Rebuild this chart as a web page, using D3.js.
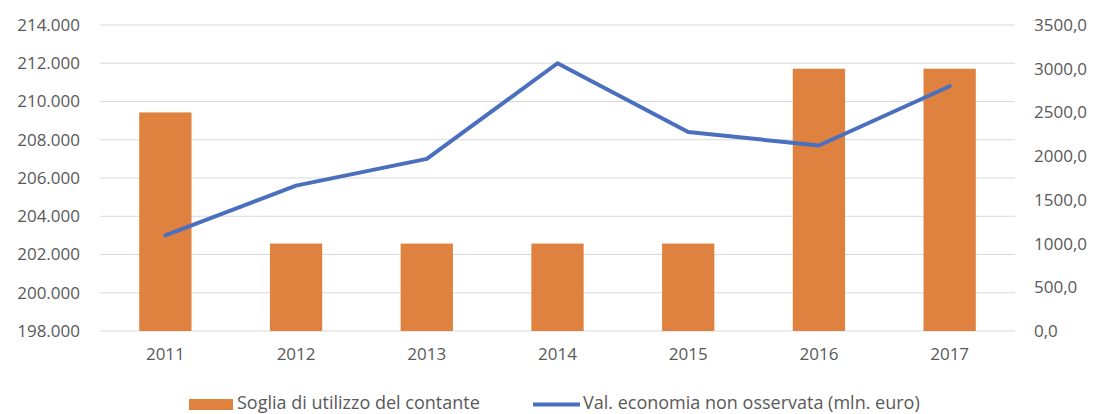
<!DOCTYPE html>
<html>
<head>
<meta charset="utf-8">
<script src="https://cdn.jsdelivr.net/npm/d3@7"></script>
<style>
  body { margin: 0; background: #fff; }
  text { font-family: "Open Sans", sans-serif; fill: #595959; }
</style>
</head>
<body>
<div id="chart"></div>
<script>
// data
const years = ["2011", "2012", "2013", "2014", "2015", "2016", "2017"];
const soglia = [2500, 1000, 1000, 1000, 1000, 3000, 3000];
const economia = [203000, 205600, 207000, 212000, 208400, 207700, 210800];
const leftTicks = [198000, 200000, 202000, 204000, 206000, 208000, 210000, 212000, 214000];
const rightTicks = [0, 500, 1000, 1500, 2000, 2500, 3000, 3500];
const seriesNames = ["Soglia di utilizzo del contante", "Val. economia non osservata (mln. euro)"];

const W = 1094, H = 414;
const margin = { top: 25, right: 79, bottom: 83, left: 100 };
const width = W - margin.left - margin.right;
const height = H - margin.top - margin.bottom;

const it = d3.formatLocale({ decimal: ",", thousands: ".", grouping: [3], currency: ["€", ""] });
const fmtLeft = it.format(",.0f");
const fmtRight = it.format(".1f");

const svg = d3.select("#chart").append("svg")
    .attr("width", W)
    .attr("height", H);

const g = svg.append("g")
    .attr("transform", `translate(${margin.left},${margin.top})`);

const x = d3.scaleBand()
    .domain(years)
    .range([0, width])
    .padding(0);

const yLeft = d3.scaleLinear()
    .domain([198000, 214000])
    .range([height, 0]);

const yRight = d3.scaleLinear()
    .domain([0, 3500])
    .range([height, 0]);

// gridlines
g.append("g")
    .selectAll("line")
    .data(leftTicks)
    .enter()
    .append("line")
    .attr("x1", 0)
    .attr("x2", width)
    .attr("y1", d => yLeft(d))
    .attr("y2", d => yLeft(d))
    .attr("stroke", "#d9d9d9")
    .attr("stroke-width", 1.2);

// left axis
const axL = g.append("g")
    .call(d3.axisLeft(yLeft).tickValues(leftTicks).tickFormat(fmtLeft).tickSize(0).tickPadding(20));
axL.select(".domain").remove();
axL.selectAll("text").attr("font-size", 17).style("font-family", "Open Sans").attr("fill", "#595959");

// right axis
const axR = g.append("g")
    .attr("transform", `translate(${width},0)`)
    .call(d3.axisRight(yRight).tickValues(rightTicks).tickFormat(fmtRight).tickSize(0).tickPadding(19));
axR.select(".domain").remove();
axR.selectAll("text").attr("font-size", 17).style("font-family", "Open Sans").attr("fill", "#595959");

// bottom axis
const axB = g.append("g")
    .attr("transform", `translate(0,${height})`)
    .call(d3.axisBottom(x).tickSize(0).tickPadding(17));
axB.select(".domain").remove();
axB.selectAll("text").attr("font-size", 17).style("font-family", "Open Sans").attr("fill", "#595959");

// bars
const barW = x.bandwidth() * 0.4;
g.selectAll(".bar")
    .data(years)
    .enter()
    .append("rect")
    .attr("class", "bar")
    .attr("x", (d) => x(d) + (x.bandwidth() - barW) / 2)
    .attr("y", (d, i) => yRight(soglia[i]))
    .attr("width", barW)
    .attr("height", (d, i) => height - yRight(soglia[i]))
    .attr("fill", "#E0823F");

// line
const line = d3.line()
    .x((d, i) => x(years[i]) + x.bandwidth() / 2)
    .y(d => yLeft(d));

g.append("path")
    .datum(economia)
    .attr("d", line)
    .attr("fill", "none")
    .attr("stroke", "#4A6FBF")
    .attr("stroke-width", 4)
    .attr("stroke-linecap", "round")
    .attr("stroke-linejoin", "round");

// legend
const leg = svg.append("g").attr("transform", "translate(0,404)");
leg.append("rect")
    .attr("x", 189).attr("y", -5)
    .attr("width", 44).attr("height", 11)
    .attr("fill", "#E0823F");
leg.append("text")
    .attr("x", 237).attr("y", 5)
    .attr("font-size", 18)
    .text(seriesNames[0]);
leg.append("line")
    .attr("x1", 533).attr("x2", 580)
    .attr("y1", 0.5).attr("y2", 0.5)
    .attr("stroke", "#4A6FBF")
    .attr("stroke-width", 4);
leg.append("text")
    .attr("x", 583).attr("y", 5)
    .attr("font-size", 18)
    .text(seriesNames[1]);
</script>
</body>
</html>
